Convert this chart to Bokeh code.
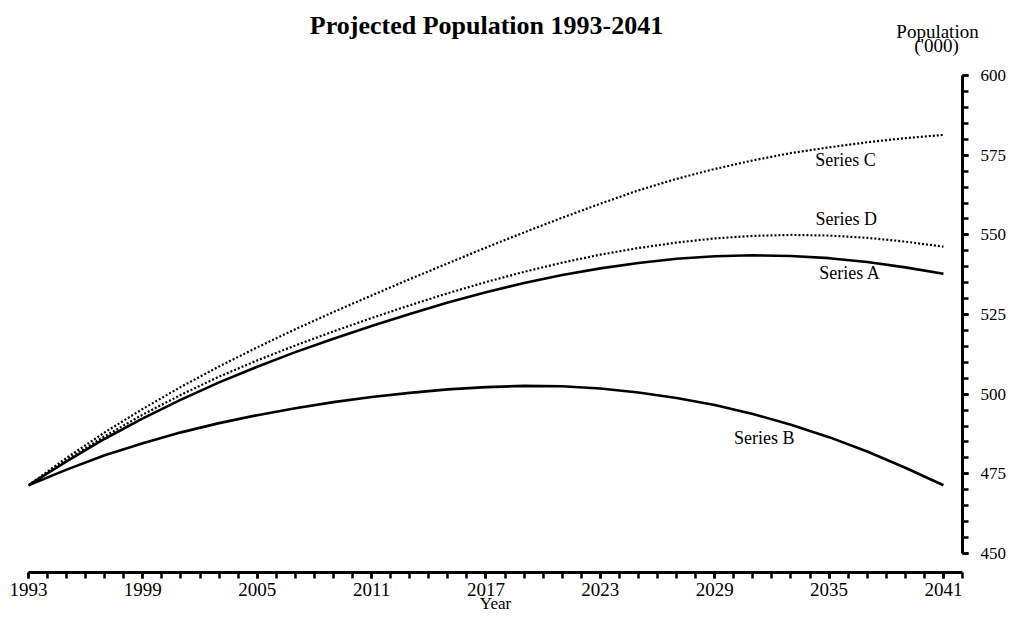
from bokeh.plotting import figure
from bokeh.models import Range1d, FixedTicker, Label, LinearAxis
from bokeh.layouts import column
from bokeh.embed import file_html
from bokeh.resources import INLINE

years = [1993, 1995, 1997, 1999, 2001, 2003, 2005, 2007, 2009, 2011, 2013, 2015, 2017,
         2019, 2021, 2023, 2025, 2027, 2029, 2031, 2033, 2035, 2037, 2039, 2041]
series_a = [471.4, 478.9, 486.0, 492.4, 498.3, 503.7, 508.6, 513.2, 517.4, 521.4, 525.2, 528.8, 532.0,
            534.9, 537.4, 539.5, 541.2, 542.5, 543.3, 543.6, 543.4, 542.7, 541.5, 539.8, 537.8]
series_b = [471.4, 476.3, 480.8, 484.6, 488.0, 490.9, 493.4, 495.6, 497.5, 499.1, 500.4, 501.5, 502.2,
            502.6, 502.5, 501.8, 500.5, 498.8, 496.6, 493.8, 490.4, 486.5, 482.0, 476.9, 471.4]
series_c = [471.4, 480.0, 488.0, 495.4, 502.3, 508.7, 514.7, 520.4, 525.8, 531.0, 536.1, 541.1, 546.0,
            550.8, 555.4, 559.8, 564.0, 567.6, 570.7, 573.4, 575.7, 577.5, 579.1, 580.4, 581.4]
series_d = [471.4, 479.3, 486.8, 493.6, 499.8, 505.5, 510.6, 515.3, 519.7, 523.9, 527.9, 531.7, 535.2,
            538.4, 541.3, 543.8, 545.9, 547.6, 548.9, 549.7, 550.0, 549.8, 549.1, 547.9, 546.3]

x_label_years = [1993, 1999, 2005, 2011, 2017, 2023, 2029, 2035, 2041]
x_minor_years = list(range(1993, 2043))
y_label_vals = [450, 475, 500, 525, 550, 575, 600]
y_minor_vals = list(range(450, 601, 5))

FONT = "Liberation Serif"

# header strip holding the title and the y-axis caption (its frame lines up with the plot frame)
header = figure(frame_width=990, frame_height=60, output_backend="svg", toolbar_location=None,
                x_range=Range1d(0, 990), y_range=Range1d(0, 60),
                x_axis_location=None, y_axis_location=None, min_border=0)
header.grid.visible = False
header.outline_line_color = None

def hlab(x, y, text, size, bold=False):
    header.add_layout(Label(x=x, y=y, text=text, text_font=FONT, text_font_size=size,
                            text_font_style="bold" if bold else "normal",
                            text_align="center", text_baseline="middle", text_color="black"))

hlab(458, 35, "Projected Population 1993-2041", "26px", bold=True)
hlab(909, 29, "Population", "19px")
hlab(908, 15, "('000)", "19px")

p = figure(frame_width=934, frame_height=500, output_backend="svg", toolbar_location=None,
           x_range=Range1d(1993, 2042), y_range=Range1d(444, 601),
           x_axis_location=None, y_axis_location=None,
           min_border_left=28, min_border_right=46, min_border_top=12, min_border_bottom=20)
p.grid.visible = False
p.outline_line_color = None

xaxis = LinearAxis(ticker=FixedTicker(ticks=x_label_years, minor_ticks=x_minor_years),
                   bounds=(1993, 2042), axis_label="Year")
yaxis = LinearAxis(ticker=FixedTicker(ticks=y_label_vals, minor_ticks=y_minor_vals),
                   bounds=(450, 600))
for ax in (xaxis, yaxis):
    ax.axis_line_width = 3
    ax.axis_line_color = "black"
    ax.major_tick_line_width = 2.5
    ax.minor_tick_line_width = 2.5
    ax.major_tick_line_color = "black"
    ax.minor_tick_line_color = "black"
    ax.major_tick_in = 0
    ax.minor_tick_in = 0
    ax.major_tick_out = 6
    ax.minor_tick_out = 6
    ax.major_label_text_font = FONT
    ax.major_label_text_color = "black"
xaxis.major_label_text_font_size = "19px"
xaxis.major_label_standoff = 4
xaxis.axis_label_text_font = FONT
xaxis.axis_label_text_font_size = "17px"
xaxis.axis_label_text_font_style = "normal"
xaxis.axis_label_text_color = "black"
xaxis.axis_label_standoff = -5
yaxis.major_label_text_font_size = "17px"
yaxis.major_label_standoff = 12
p.add_layout(xaxis, "below")
p.add_layout(yaxis, "right")

p.line(years, series_c, line_color="black", line_width=2.2, line_dash="2 2")
p.line(years, series_d, line_color="black", line_width=2.2, line_dash="2 2")
p.line(years, series_a, line_color="black", line_width=2.6)
p.line(years, series_b, line_color="black", line_width=2.6)

def lab(x, y, text, size="18px"):
    p.add_layout(Label(x=x, y=y, text=text, text_font=FONT, text_font_size=size,
                       text_align="center", text_baseline="middle", text_color="black"))

lab(2035.86, 573.4, "Series C")
lab(2035.9, 555.1, "Series D")
lab(2036.1, 537.9, "Series A")
lab(2031.6, 486.1, "Series B")

layout = column(header, p, spacing=0)
open("out.html", "w").write(file_html(layout, INLINE))
